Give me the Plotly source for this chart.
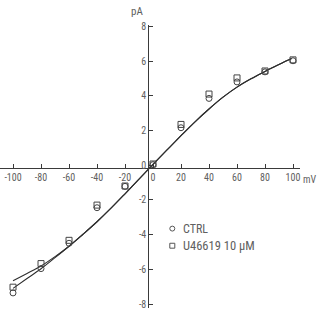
import plotly.graph_objects as go

# measured points
volt = [-100, -80, -60, -40, -20, 0, 20, 40, 60, 80, 100]
ctrl = [-7.36, -5.96, -4.50, -2.45, -1.22, 0.03, 2.16, 3.85, 4.80, 5.38, 6.02]
u466 = [-7.03, -5.67, -4.33, -2.30, -1.20, 0.07, 2.35, 4.10, 5.03, 5.43, 6.07]

# fitted curves
fit_x = [-100, -90, -80, -70, -60, -50, -40, -30, -20, -10, 0, 10, 20, 30, 40, 50, 60, 70, 80, 90, 95, 99]
fit_ctrl = [-7.10, -6.53, -5.97, -5.33, -4.67, -3.98, -3.26, -2.48, -1.65, -0.80, 0.05, 0.88, 1.70, 2.50, 3.24, 3.92, 4.50, 4.98, 5.40, 5.80, 6.00, 6.15]
fit_u466 = [-6.66, -6.24, -5.81, -5.27, -4.67, -3.98, -3.26, -2.48, -1.65, -0.80, 0.05, 0.88, 1.70, 2.50, 3.24, 3.92, 4.50, 4.98, 5.40, 5.80, 6.00, 6.15]

x_ticks = [-100, -80, -60, -40, -20, 0, 20, 40, 60, 80, 100]
y_ticks = [-8, -6, -4, -2, 0, 2, 4, 6, 8]

W, H = 319, 309
FONT = "Liberation Sans Narrow, Roboto Condensed, DejaVu Sans Condensed, Arial Narrow, sans-serif"
TXT = "#606060"
AX = "#3a3a3a"

fig = go.Figure()
for fy in (fit_ctrl, fit_u466):
    fig.add_trace(go.Scatter(x=fit_x, y=fy, mode="lines",
                             line=dict(color="#2e2e2e", width=1.1, shape="spline", smoothing=1.0),
                             showlegend=False, hoverinfo="skip"))
fig.add_trace(go.Scatter(x=volt, y=ctrl, mode="markers", name="CTRL",
                         marker=dict(symbol="circle-open", size=6, color="#444444", line=dict(width=1)), showlegend=False))
fig.add_trace(go.Scatter(x=volt, y=u466, mode="markers", name="U46619 10 μM",
                         marker=dict(symbol="square-open", size=6, color="#444444", line=dict(width=1)), showlegend=False))

def px(x):
    return x / W

def py(y):
    return (H - y) / H

fig.update_layout(
    width=W, height=H, margin=dict(l=0, r=0, t=0, b=0),
    paper_bgcolor="white", plot_bgcolor="white",
    font=dict(family=FONT, color=TXT, size=10),
    xaxis=dict(range=[-109.3, 105], domain=[0, 300 / W], anchor="free", position=py(167),
               tickvals=x_ticks, ticktext=[str(v) for v in x_ticks], ticks="inside", ticklen=4,
               tickwidth=1, tickcolor=AX, showline=True, linecolor=AX, linewidth=1,
               showgrid=False, zeroline=False, tickfont=dict(size=10, color=TXT),
               ticklabeloverflow="allow"),
    yaxis=dict(range=[-8.23, 8.06], domain=[0, (H - 21.7) / H], anchor="free", position=px(148.3),
               tickvals=y_ticks, ticktext=[str(v) for v in y_ticks], ticks="inside", ticklen=4,
               tickwidth=1, tickcolor=AX, showline=True, linecolor=AX, linewidth=1,
               showgrid=False, zeroline=False, tickfont=dict(size=10, color=TXT),
               ticklabeloverflow="allow"),
    showlegend=False,
)

# axis unit labels
fig.add_annotation(x=px(137), y=py(8), xref="paper", yref="paper", text="pA", showarrow=False,
                   font=dict(size=11, color=TXT, family=FONT), xanchor="center", yanchor="middle")
fig.add_annotation(x=px(310), y=py(178.5), xref="paper", yref="paper", text="mV", showarrow=False,
                   font=dict(size=10, color=TXT, family=FONT), xanchor="center", yanchor="middle")

# legend
lx, r = 172.3, 2.5
fig.add_shape(type="circle", xref="paper", yref="paper", x0=px(lx - r), x1=px(lx + r), y0=py(228.3 + r), y1=py(228.3 - r),
              line=dict(color="#555555", width=1))
fig.add_shape(type="rect", xref="paper", yref="paper", x0=px(lx - r), x1=px(lx + r), y0=py(245.7 + r), y1=py(245.7 - r),
              line=dict(color="#555555", width=1))
fig.add_annotation(x=px(181), y=py(228.5), xref="paper", yref="paper", text="CTRL", showarrow=False,
                   font=dict(size=12, color=TXT, family=FONT), xanchor="left", yanchor="middle")
fig.add_annotation(x=px(181), y=py(245.7), xref="paper", yref="paper", text="U46619 10 μM", showarrow=False,
                   font=dict(size=12.5, color=TXT, family=FONT), xanchor="left", yanchor="middle")

fig.write_html("out.html")
